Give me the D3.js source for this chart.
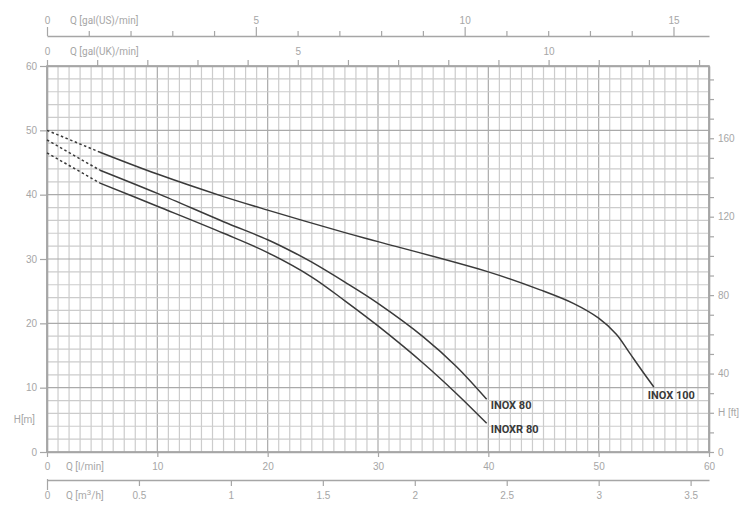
<!DOCTYPE html>
<html>
<head>
<meta charset="utf-8">
<script src="https://cdn.jsdelivr.net/npm/d3@7"></script>
<style>
html,body{margin:0;padding:0;background:#fff;}
svg{display:block;font-family:Roboto,"Liberation Sans",Arial,sans-serif;}
.ax text{fill:#a6a6a6;font-size:10px;}
.ax path,.ax line{stroke:#a6a6a6;}
</style>
</head>
<body>
<svg id="c" width="748" height="517"></svg>
<script>
// ---- data (Q in l/min, H in m) ----
const qTicksLmin = [0,10,20,30,40,50,60];
const hTicksM = [0,10,20,30,40,50,60];
const m3hTicks = [0,0.5,1,1.5,2,2.5,3,3.5];
const usGalTicks = d3.range(0,16);
const ukGalTicks = d3.range(0,14);
const ftTicks = d3.range(0,200,10);

const inox100Dash = [[0,50.0],[4.8,46.6]];
const inox100 = [[4.8,46.6],[10,43.2],[16,39.7],[20,37.6],[27,34.1],[30,32.7],[40,28.0],[44.7,25.2],[47.7,23.1],[50,20.8],[51.6,18.3],[52.8,15.4],[53.9,12.7],[55,10.1]];
const inox80Dash = [[0,48.5],[4.8,43.8]];
const inox80 = [[4.8,43.8],[10,40.2],[16,35.8],[20,33.0],[22.5,30.9],[24,29.5],[27,26.4],[30,23.1],[34.1,17.9],[37.1,13.3],[39.85,8.2]];
const inoxr80Dash = [[0,46.5],[4.8,41.8]];
const inoxr80 = [[4.8,41.8],[10,38.2],[16,34.0],[20,31.0],[24,27.2],[27,23.5],[30,19.6],[34.1,13.8],[37.1,9.1],[39.85,4.46]];
const curveLabels = [
  {name:"INOX 100", q:55, h:10.1, dx:-6, dy:12},
  {name:"INOX 80", q:39.85, h:8.2, dx:4, dy:10},
  {name:"INOXR 80", q:39.85, h:4.46, dx:4, dy:10}
];

// ---- scales ----
const L=47, R=709, T=66, B=452;
const x = d3.scaleLinear().domain([0,60]).range([L,R]);
const y = d3.scaleLinear().domain([0,60]).range([B,T]);
const yFt = d3.scaleLinear().domain([0,60/0.3048]).range([B,T]);
const xUS = d3.scaleLinear().domain([0,60/3.78541]).range([L,R]);
const xUK = d3.scaleLinear().domain([0,60/4.54609]).range([L,R]);
const xM3 = d3.scaleLinear().domain([0,3.6]).range([L,R]);

const svg = d3.select("#c");

// ---- grid ----
const grid = svg.append("g");
grid.selectAll("line.v").data(d3.range(0,61,1)).join("line")
  .attr("x1",d=>x(d)).attr("x2",d=>x(d)).attr("y1",T).attr("y2",B)
  .attr("stroke",d=>d%10===0?"#aaaaaa":"#cccccc").attr("stroke-width",1.2);
grid.selectAll("line.h").data(d3.range(0,61,2)).join("line")
  .attr("y1",d=>y(d)).attr("y2",d=>y(d)).attr("x1",L).attr("x2",R)
  .attr("stroke",d=>d%10===0?"#aaaaaa":"#cccccc").attr("stroke-width",1.2);
svg.append("rect").attr("x",L).attr("y",T).attr("width",R-L).attr("height",B-T)
  .attr("fill","none").attr("stroke","#a6a6a6").attr("stroke-width",1.6);

// ---- axes ----
function style(g){ g.classed("ax",true); g.selectAll("path").attr("stroke-width",1.6); g.selectAll("line").attr("stroke-width",1.2); }

// top US gallons
const gUS = svg.append("g").attr("transform",`translate(0,36)`)
  .call(d3.axisTop(xUS).tickValues(usGalTicks).tickSize(5).tickSizeOuter(0).tickPadding(7)
    .tickFormat(d=>d%5===0?d:""));
gUS.selectAll(".tick line").filter(d=>d%5===0).attr("y2",-9);
style(gUS);
svg.append("text").attr("x",70).attr("y",24).attr("fill","#a6a6a6").attr("font-size",10).text("Q [gal(US)/min]");

// top UK gallons
const gUK = svg.append("g").attr("transform",`translate(0,${T})`)
  .call(d3.axisTop(xUK).tickValues(ukGalTicks).tickSize(6).tickSizeOuter(0).tickPadding(5)
    .tickFormat(d=>d%5===0?d:""));
style(gUK);
svg.append("text").attr("x",70).attr("y",55).attr("fill","#a6a6a6").attr("font-size",10).text("Q [gal(UK)/min]");

// bottom l/min
const gL = svg.append("g").attr("transform",`translate(0,${B})`)
  .call(d3.axisBottom(x).tickValues(qTicksLmin).tickSize(5).tickSizeOuter(0).tickPadding(6));
style(gL);
svg.append("text").attr("x",66).attr("y",470).attr("fill","#a6a6a6").attr("font-size",10).text("Q [l/min]");

// bottom m3/h
const gM = svg.append("g").attr("transform",`translate(0,480)`)
  .call(d3.axisBottom(xM3).tickValues(m3hTicks).tickSize(6).tickSizeOuter(0).tickPadding(6)
    .tickFormat(d=>String(d)));
gM.selectAll(".tick line").filter(d=>d===0).attr("y1",-1).attr("y2",10);
style(gM);
const tm = svg.append("text").attr("x",66).attr("y",499).attr("fill","#a6a6a6").attr("font-size",10);
tm.append("tspan").text("Q [m");
tm.append("tspan").attr("dy",-4).attr("font-size",8).text("3");
tm.append("tspan").attr("dy",4).text("/h]");

// left m
const gY = svg.append("g").attr("transform",`translate(${L},0)`)
  .call(d3.axisLeft(y).tickValues(hTicksM).tickSize(7).tickSizeOuter(0).tickPadding(3));
style(gY);
svg.append("text").attr("x",35).attr("y",423).attr("text-anchor","end").attr("fill","#a6a6a6").attr("font-size",10).text("H[m]");

// right ft
const gF = svg.append("g").attr("transform",`translate(${R},0)`)
  .call(d3.axisRight(yFt).tickValues(ftTicks).tickSize(5).tickSizeOuter(0).tickPadding(4)
    .tickFormat(d=>d%40===0?d:(d===20?"H [ft]":"")));
style(gF);

// ---- curves ----
const line = d3.line().x(d=>x(d[0])).y(d=>y(d[1])).curve(d3.curveCatmullRom.alpha(0.5));
const cg = svg.append("g");
[inox100, inox80, inoxr80].forEach(s=>{
  cg.append("path").attr("d",line(s)).attr("fill","none").attr("stroke","#3a3a3a").attr("stroke-width",1.5);
});
[inox100Dash, inox80Dash, inoxr80Dash].forEach(s=>{
  cg.append("path").attr("d",d3.line().x(d=>x(d[0])).y(d=>y(d[1]))(s)).attr("fill","none")
    .attr("stroke","#3a3a3a").attr("stroke-width",1.5).attr("stroke-dasharray","2.5,2.5");
});
cg.selectAll("text.lab").data(curveLabels).join("text")
  .attr("x",d=>x(d.q)+d.dx)
  .attr("y",d=>y(d.h)+d.dy)
  .attr("fill","#3a3a3a").attr("font-size",11).attr("font-weight","bold")
  .text(d=>d.name);
</script>
</body>
</html>
